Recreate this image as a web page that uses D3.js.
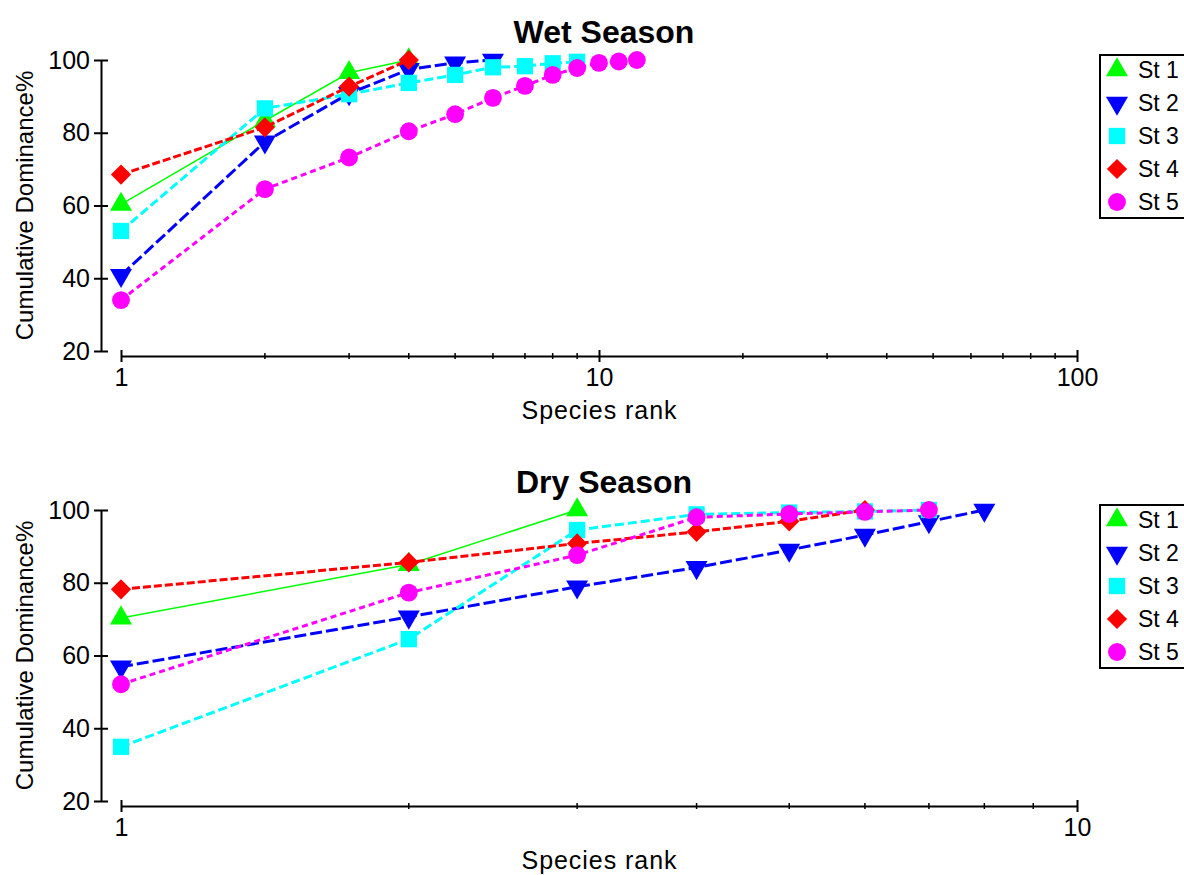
<!DOCTYPE html>
<html>
<head>
<meta charset="utf-8">
<script src="https://cdn.jsdelivr.net/npm/d3@7"></script>
<style>
  body { margin: 0; background: #fff; }
  text { font-family: "Liberation Sans", Arial, sans-serif; fill: #000; }
</style>
</head>
<body>
<div id="viz"></div>
<script>
// station names and their styles
const stations = ["St 1", "St 2", "St 3", "St 4", "St 5"];
const colors = ["#00ff00", "#0000ff", "#00ffff", "#ff0000", "#ff00ff"];

// cumulative dominance % by species rank (rank = index + 1)
const wetSt1 = [60.3, 83.3, 96.5, 100];
const wetSt2 = [40.8, 77.5, 90.8, 97.4, 99.2, 100];
const wetSt3 = [53, 86.7, 90.6, 93.7, 95.9, 98, 98.3, 99.1, 99.5];
const wetSt4 = [68.5, 81.5, 92.7, 100];
const wetSt5 = [34, 64.5, 73.2, 80.4, 85.1, 89.6, 92.9, 95.9, 97.8, 99.2, 99.6, 100];

const drySt1 = [70.3, 85, 100];
const drySt2 = [56.9, 70.6, 78.9, 84.2, 89, 93.1, 96.8, 100];
const drySt3 = [34.9, 64.5, 94.5, 98.8, 99.3, 99.6, 100];
const drySt4 = [78.2, 85.6, 90.8, 94, 96.9, 100];
const drySt5 = [52.1, 77.3, 87.6, 98, 98.9, 99.5, 100];

const yTicks = [20, 40, 60, 80, 100];
const wetXTicks = [1, 10, 100];
const dryXTicks = [1, 10];

const W = 1184, H = 875;
const svg = d3.select("#viz").append("svg").attr("width", W).attr("height", H);

const dashes = [null, "12,4", "9,4", "8,3", "6,4"];
const widths = [1.5, 3, 3, 3, 3];

function marker(i) {
  if (i === 0) return { d: d3.symbol(d3.symbolTriangle, 210)(), rot: 0 };
  if (i === 1) return { d: d3.symbol(d3.symbolTriangle, 210)(), rot: 180 };
  if (i === 2) return { d: d3.symbol(d3.symbolSquare, 265)(), rot: 0 };
  if (i === 3) return { d: d3.symbol(d3.symbolSquare, 205)(), rot: 45 };
  return { d: d3.symbol(d3.symbolCircle, 250)(), rot: 0 };
}

function drawPanel({ title, top, series, xDomain, xTicks, minor }) {
  const bottom = top + 291;
  const x = d3.scaleLog().domain(xDomain).range([121, 1077]);
  const y = d3.scaleLinear().domain([20, 100]).range([bottom, top]);
  const g = svg.append("g");

  // title
  g.append("text")
    .attr("x", 604)
    .attr("y", top - 17)
    .attr("text-anchor", "middle")
    .attr("font-size", 32)
    .attr("font-weight", "bold")
    .text(title);

  // y axis
  const yAx = g.append("g")
    .attr("transform", "translate(101,0)")
    .call(d3.axisLeft(y).tickValues(yTicks).tickSizeOuter(0));
  yAx.select(".domain").attr("stroke", "#000").attr("stroke-width", 2);
  yAx.selectAll(".tick line").attr("x1", 7).attr("x2", -7).attr("stroke-width", 2);
  yAx.selectAll(".tick text").attr("x", -11).attr("font-size", 25).attr("font-family", "Liberation Sans, Arial");

  // x axis
  const xAxisY = bottom + 5;
  const xAx = g.append("g")
    .attr("transform", `translate(0,${xAxisY})`)
    .call(d3.axisBottom(x).tickValues(xTicks).tickFormat(d3.format("d")).tickSizeOuter(0));
  xAx.select(".domain").attr("stroke", "#000").attr("stroke-width", 2);
  xAx.selectAll(".tick line").attr("y1", -6).attr("y2", 6).attr("stroke-width", 2);
  xAx.selectAll(".tick text").attr("y", 12).attr("font-size", 25).attr("font-family", "Liberation Sans, Arial");

  g.append("g")
    .attr("transform", `translate(0,${xAxisY})`)
    .selectAll("line")
    .data(minor)
    .join("line")
    .attr("x1", (d) => x(d))
    .attr("x2", (d) => x(d))
    .attr("y1", -3)
    .attr("y2", 3)
    .attr("stroke", "#000")
    .attr("stroke-width", 1.5);

  // axis labels
  g.append("text")
    .attr("x", 599)
    .attr("y", xAxisY + 63)
    .attr("text-anchor", "middle")
    .attr("font-size", 25)
    .attr("textLength", 155)
    .text("Species rank");
  g.append("text")
    .attr("transform", `translate(33,${(top + bottom) / 2}) rotate(-90)`)
    .attr("text-anchor", "middle")
    .attr("font-size", 24)
    .text("Cumulative Dominance%");

  // series
  const line = d3.line()
    .x((d, i) => x(i + 1))
    .y((d) => y(d));
  series.forEach((vals, i) => {
    g.append("path")
      .datum(vals)
      .attr("d", line)
      .attr("fill", "none")
      .attr("stroke", colors[i])
      .attr("stroke-width", widths[i])
      .attr("stroke-dasharray", dashes[i]);
    const m = marker(i);
    g.selectAll(".m" + i)
      .data(vals)
      .join("path")
      .attr("class", "m" + i)
      .attr("d", m.d)
      .attr("transform", (d, j) => `translate(${x(j + 1)},${y(d)}) rotate(${m.rot})`)
      .attr("fill", colors[i]);
  });

  // legend
  const lg = g.append("g").attr("transform", `translate(1100,${top - 5})`);
  lg.append("rect")
    .attr("width", 120)
    .attr("height", 163)
    .attr("fill", "#fff")
    .attr("stroke", "#000")
    .attr("stroke-width", 2);
  stations.forEach((s, i) => {
    const m = marker(i);
    const cy = 15 + i * 33;
    lg.append("path")
      .attr("d", m.d)
      .attr("transform", `translate(17,${cy}) rotate(${m.rot})`)
      .attr("fill", colors[i]);
    lg.append("text")
      .attr("x", 38)
      .attr("y", cy + 8)
      .attr("font-size", 23)
      .text(s);
  });
}

drawPanel({
  title: "Wet Season",
  top: 60,
  series: [wetSt1, wetSt2, wetSt3, wetSt4, wetSt5],
  xDomain: [1, 100],
  xTicks: wetXTicks,
  minor: [2, 3, 4, 5, 6, 7, 8, 9, 20, 30, 40, 50, 60, 70, 80, 90],
});

drawPanel({
  title: "Dry Season",
  top: 510,
  series: [drySt1, drySt2, drySt3, drySt4, drySt5],
  xDomain: [1, 10],
  xTicks: dryXTicks,
  minor: [2, 3, 4, 5, 6, 7, 8, 9],
});
</script>
</body>
</html>
